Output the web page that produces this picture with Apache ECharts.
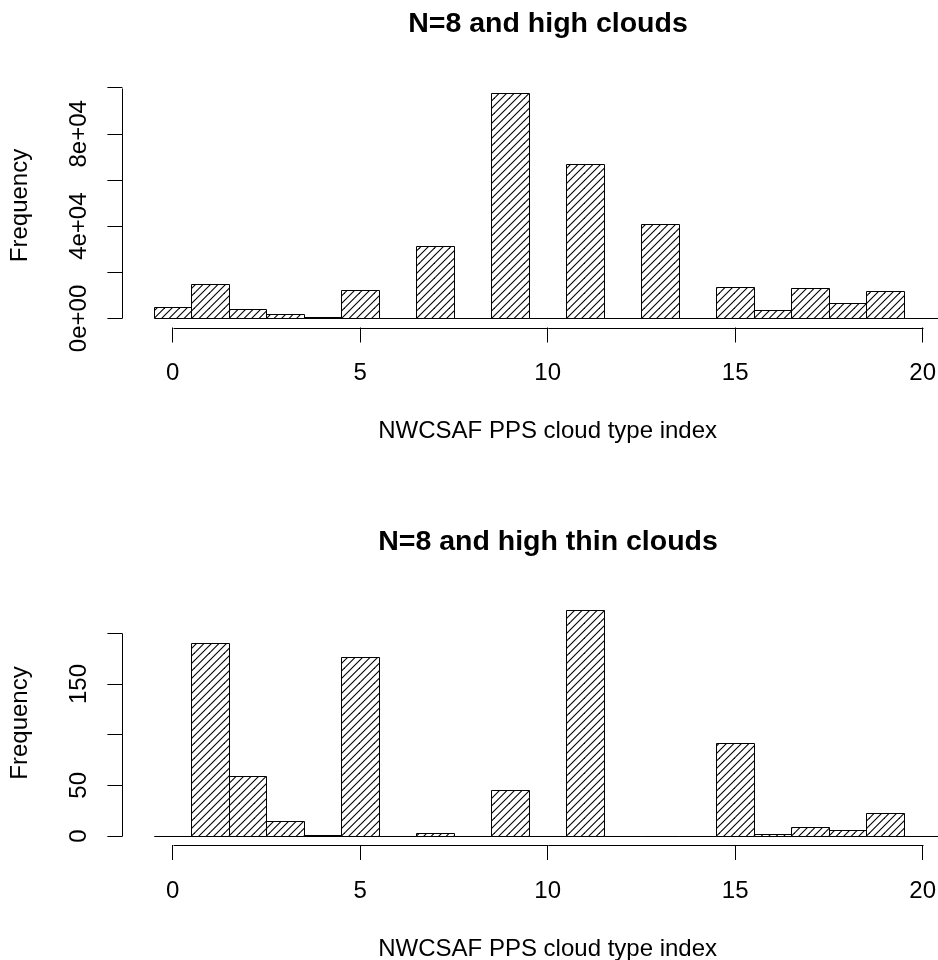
<!DOCTYPE html>
<html>
<head>
<meta charset="utf-8">
<title>N=8 cloud type histograms</title>
<script src="https://cdn.jsdelivr.net/npm/echarts@6/dist/echarts.min.js"></script>
<style>
  html, body { margin: 0; padding: 0; background: #fff; }
  #chart { width: 938px; height: 960px; }
</style>
</head>
<body>
<div id="chart"></div>
<script>
// histogram bins, width 1, centred on each cloud type index
var cloudTypes = [0, 1, 2, 3, 4, 5, 6, 7, 8, 9, 10, 11, 12, 13, 14, 15, 16, 17, 18, 19, 20];
// N=8 and high clouds
var highCounts = [5000, 15100, 4000, 1900, 500, 12300, 0, 31400, 0, 97900, 0, 67000, 0, 41000, 0, 13700, 3800, 13100, 6600, 11700, 0];
// N=8 and high thin clouds
var thinCounts = [0, 190, 59, 15, 1, 177, 0, 3, 0, 45, 0, 223, 0, 0, 0, 92, 2, 9, 6, 23, 0];

var xTicks = [0, 5, 10, 15, 20];
var highYTicks = [0, 20000, 40000, 60000, 80000, 100000];
var highYLabelValues = [0, 40000, 80000];
var highYLabelText = ['0e+00', '4e+04', '8e+04'];
var thinYTicks = [0, 50, 100, 150, 200];
var thinYLabelValues = [0, 50, 150];
var thinYLabelText = ['0', '50', '150'];

var titles = ['N=8 and high clouds', 'N=8 and high thin clouds'];
var xName = 'NWCSAF PPS cloud type index';
var yName = 'Frequency';

var ff = '"Liberation Sans", Arial, Helvetica, sans-serif';

// diagonal hatching like R's density/angle fill
var hatchCanvas = document.createElement('canvas');
hatchCanvas.width = 15;
hatchCanvas.height = 15;
var hctx = hatchCanvas.getContext('2d');
hctx.strokeStyle = '#000';
hctx.lineWidth = 1.1;
for (var c = 0; c <= 30; c += 7.5) {
  hctx.beginPath();
  hctx.moveTo(c + 2, -2);
  hctx.lineTo(-2, c + 2);
  hctx.stroke();
}
var hatch = { image: hatchCanvas, repeat: 'repeat' };

// R pads the data range by 4% on each side
var binLo = cloudTypes[0] - 0.5, binHi = cloudTypes[cloudTypes.length - 1] + 0.5;
var xPad = 0.04 * (binHi - binLo);
var xMin = binLo - xPad, xMax = binHi + xPad;

function yRange(counts) {
  var m = Math.max.apply(null, counts);
  return [-0.04 * m, m * 1.04];
}

function crisp(v) { return Math.round(v) + 0.5; }

function barItem(params, api) {
  var i = api.value(0), n = api.value(1);
  var p0 = api.coord([i - 0.5, n]);
  var p1 = api.coord([i + 0.5, 0]);
  var x0 = crisp(p0[0]), x1 = crisp(p1[0]);
  var y0 = crisp(p0[1]), y1 = crisp(p1[1]);
  return {
    type: 'rect',
    shape: { x: x0, y: y0, width: x1 - x0, height: y1 - y0 },
    style: { fill: hatch, stroke: '#000', lineWidth: 1 }
  };
}

function axisLinesItem(yTicks) {
  return function (params, api) {
    var cs = params.coordSys;
    var xa = api.coord([xTicks[0], 0])[0];
    var xb = api.coord([xTicks[xTicks.length - 1], 0])[0];
    var ya = api.coord([0, yTicks[0]])[1];
    var yb = api.coord([0, yTicks[yTicks.length - 1]])[1];
    var bottom = crisp(cs.y + cs.height), left = crisp(cs.x);
    var ls = { stroke: '#000', lineWidth: 1 };
    return {
      type: 'group',
      children: [
        { type: 'line', shape: { x1: crisp(xa), y1: bottom, x2: crisp(xb), y2: bottom }, style: ls },
        { type: 'line', shape: { x1: left, y1: crisp(ya), x2: left, y2: crisp(yb) }, style: ls }
      ]
    };
  };
}

var textStyle = { color: '#000', fontSize: 24, fontFamily: ff };
var tickStyle = { color: '#000', width: 1 };

function makeXAxis(g) {
  return {
    type: 'value', gridIndex: g, min: xMin, max: xMax,
    axisLine: { show: false, onZero: false }, splitLine: { show: false },
    axisTick: { show: true, length: 15, customValues: xTicks, lineStyle: tickStyle },
    axisLabel: { customValues: xTicks, margin: 34, color: '#000', fontSize: 24, fontFamily: ff },
    name: xName, nameLocation: 'middle', nameGap: 92, nameTextStyle: textStyle
  };
}

function makeYAxis(g, counts, ticks, labelValues, labelText) {
  var r = yRange(counts);
  return {
    type: 'value', gridIndex: g, min: r[0], max: r[1],
    axisLine: { show: false, onZero: false }, splitLine: { show: false },
    axisTick: { show: true, length: 15, customValues: ticks, lineStyle: tickStyle },
    axisLabel: {
      customValues: labelValues, rotate: 90, margin: 31,
      color: '#000', fontSize: 24, fontFamily: ff,
      formatter: function (v) {
        var k = labelValues.indexOf(v);
        return k >= 0 ? labelText[k] : '';
      }
    },
    name: yName, nameLocation: 'middle', nameGap: 90, nameRotate: 90, nameTextStyle: textStyle
  };
}

function pairs(counts) {
  return cloudTypes.map(function (t, k) { return [t, counts[k]]; });
}

var myChart = echarts.init(document.getElementById('chart'), null, { renderer: 'canvas' });
myChart.setOption({
  animation: false,
  backgroundColor: '#fff',
  title: [
    { text: titles[0], left: 548, top: 10, textAlign: 'center', padding: 0,
      textStyle: { color: '#000', fontSize: 28.5, fontWeight: 'bold', fontFamily: ff } },
    { text: titles[1], left: 548, top: 528, textAlign: 'center', padding: 0,
      textStyle: { color: '#000', fontSize: 28.5, fontWeight: 'bold', fontFamily: ff } }
  ],
  grid: [
    { left: 122.4, top: 83.5, width: 850.5, height: 244, outerBoundsMode: 'none', containLabel: false },
    { left: 122.4, top: 601, width: 850.5, height: 244, outerBoundsMode: 'none', containLabel: false }
  ],
  xAxis: [makeXAxis(0), makeXAxis(1)],
  yAxis: [
    makeYAxis(0, highCounts, highYTicks, highYLabelValues, highYLabelText),
    makeYAxis(1, thinCounts, thinYTicks, thinYLabelValues, thinYLabelText)
  ],
  series: [
    { type: 'custom', xAxisIndex: 0, yAxisIndex: 0, data: pairs(highCounts),
      encode: { x: 0, y: 1 }, renderItem: barItem, silent: true },
    { type: 'custom', xAxisIndex: 1, yAxisIndex: 1, data: pairs(thinCounts),
      encode: { x: 0, y: 1 }, renderItem: barItem, silent: true },
    { type: 'custom', xAxisIndex: 0, yAxisIndex: 0, data: [[0, 0]],
      renderItem: axisLinesItem(highYTicks), silent: true },
    { type: 'custom', xAxisIndex: 1, yAxisIndex: 1, data: [[0, 0]],
      renderItem: axisLinesItem(thinYTicks), silent: true }
  ]
});
window.addEventListener('resize', function () {
  myChart.resize();
});
</script>
</body>
</html>
